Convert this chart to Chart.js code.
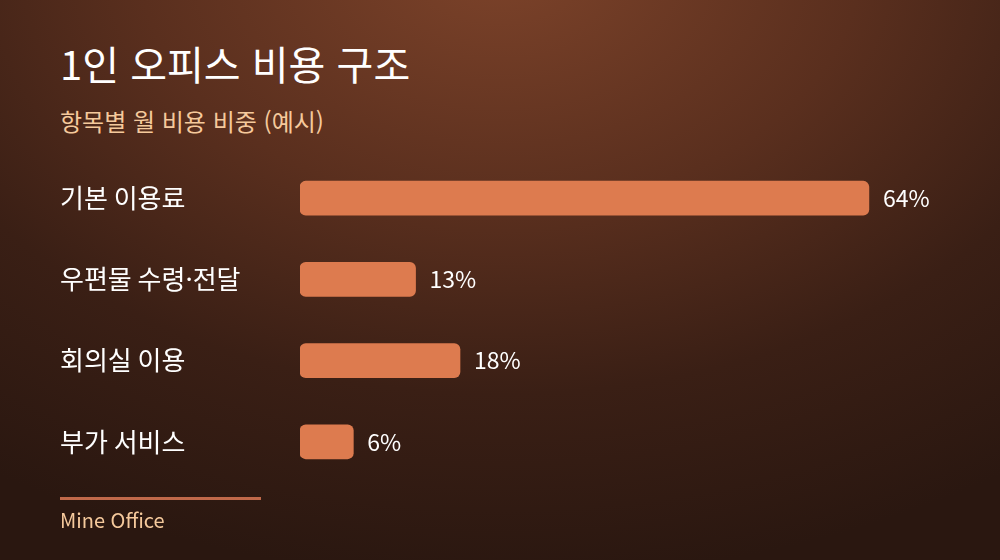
<!DOCTYPE html>
<html lang="ko">
<head>
<meta charset="utf-8">
<script src="https://cdn.jsdelivr.net/npm/chart.js@4.4.1/dist/chart.umd.min.js"></script>
<style>
  html, body { margin: 0; padding: 0; }
  body {
    width: 1000px; height: 560px; overflow: hidden; position: relative;
    font-family: "Noto Sans CJK KR", "Noto Sans", sans-serif;
    background: radial-gradient(ellipse 900px 620px at 500px -40px, #7d432a 0%, #5a2f1e 40%, #3a1f15 70%, #2a1710 100%);
  }
  #title { position: absolute; left: 60px; top: 39px; margin: 0; font-size: 40px; font-weight: 400; color: #ffffff; line-height: 1.2; }
  #subtitle { position: absolute; left: 60px; top: 107px; margin: 0; font-size: 24px; font-weight: 400; color: #f5c99c; line-height: 1.2; }
  #rule { position: absolute; left: 60px; top: 497px; width: 201px; height: 3px; background: #c0694a; }
  #source { position: absolute; left: 60px; top: 508px; font-size: 20px; color: #f5c99c; line-height: 1.2; }
  #wrap { position: absolute; left: 0; top: 142px; width: 1000px; height: 356px; }
</style>
</head>
<body>
<h1 id="title">1인 오피스 비용 구조</h1>
<p id="subtitle">항목별 월 비용 비중 (예시)</p>
<div id="wrap"><canvas id="costChart"></canvas></div>
<div id="rule"></div>
<div id="source">Mine Office</div>
<script>
const categories = ["기본 이용료", "우편물 수령·전달", "회의실 이용", "부가 서비스"];
const shares = [64, 13, 18, 6];
const axisMax = 72;

// draws "64%" etc. just past the end of each bar
const valueLabels = {
  id: "valueLabels",
  afterDatasetsDraw(chart) {
    const ctx = chart.ctx;
    const meta = chart.getDatasetMeta(0);
    ctx.save();
    ctx.font = '23px "Noto Sans CJK KR", "Noto Sans", sans-serif';
    ctx.fillStyle = "#ffffff";
    ctx.textAlign = "left";
    ctx.textBaseline = "middle";
    meta.data.forEach((bar, i) => {
      ctx.fillText(shares[i] + "%", bar.x + 14, bar.y);
    });
    ctx.restore();
  }
};

document.addEventListener("DOMContentLoaded", () => {
  const ctx = document.getElementById("costChart").getContext("2d");
  new Chart(ctx, {
    type: "bar",
    data: {
      labels: categories,
      datasets: [{
        data: shares,
        backgroundColor: "#dd7b4f",
        borderRadius: 6,
        borderSkipped: false,
        barThickness: 34,
      }],
    },
    options: {
      indexAxis: "y",
      responsive: true,
      maintainAspectRatio: false,
      animation: false,
      layout: { padding: { left: 60, right: 60, top: 0, bottom: 0 } },
      plugins: {
        legend: { display: false },
        tooltip: { enabled: false },
      },
      scales: {
        x: {
          display: false,
          min: 0,
          max: axisMax,
        },
        y: {
          grid: { display: false },
          border: { display: false },
          ticks: {
            color: "#ffffff",
            crossAlign: "far",
            padding: 0,
            font: { family: '"Noto Sans CJK KR", "Noto Sans", sans-serif', size: 26 },
          },
          afterFit(scale) { scale.width = 240; },
        },
      },
    },
    plugins: [valueLabels],
  });
});
</script>
</body>
</html>
